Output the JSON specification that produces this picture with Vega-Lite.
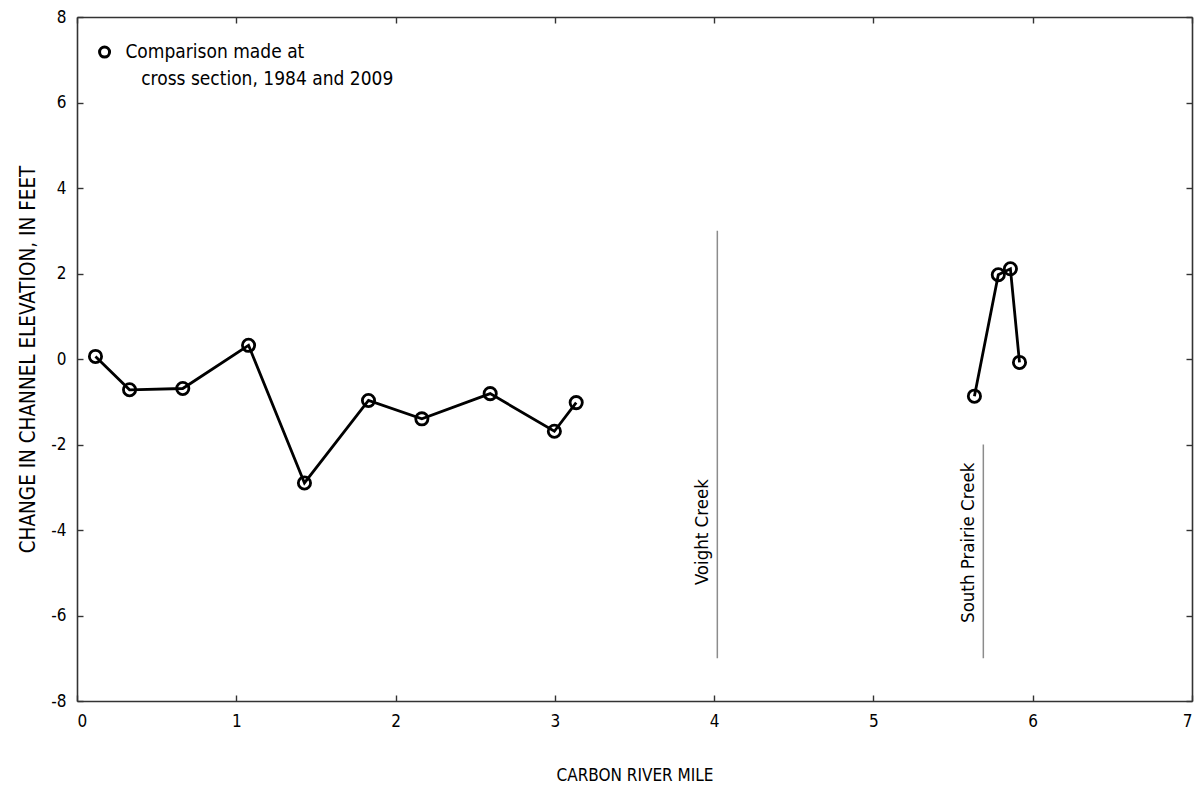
{
  "$schema": "https://vega.github.io/schema/vega-lite/v6.json",
  "width": 1115,
  "height": 684,
  "autosize": {"type": "none"},
  "padding": {"left": 77, "top": 17, "right": 10, "bottom": 85},
  "background": "white",
  "config": {
    "font": "Liberation Sans Narrow, DejaVu Sans Condensed, Roboto, sans-serif",
    "view": {"stroke": null},
    "axis": {
      "grid": false,
      "domainColor": "#333333",
      "domainWidth": 1.6,
      "tickColor": "#333333",
      "tickWidth": 1.4,
      "tickSize": -6,
      "labelFontSize": 17,
      "labelColor": "#000000",
      "labelExpr": "'' + datum.value",
      "titleFontSize": 17,
      "titleFontWeight": "normal",
      "titleColor": "#000000"
    }
  },
  "datasets": {
    "sections": [
      {"reach": "lower", "mile": 0.116, "change": 0.06},
      {"reach": "lower", "mile": 0.33, "change": -0.72},
      {"reach": "lower", "mile": 0.664, "change": -0.69},
      {"reach": "lower", "mile": 1.077, "change": 0.32},
      {"reach": "lower", "mile": 1.428, "change": -2.9},
      {"reach": "lower", "mile": 1.83, "change": -0.97},
      {"reach": "lower", "mile": 2.165, "change": -1.4},
      {"reach": "lower", "mile": 2.594, "change": -0.81},
      {"reach": "lower", "mile": 2.997, "change": -1.69},
      {"reach": "lower", "mile": 3.134, "change": -1.02},
      {"reach": "upper", "mile": 5.634, "change": -0.87},
      {"reach": "upper", "mile": 5.784, "change": 1.97},
      {"reach": "upper", "mile": 5.86, "change": 2.11},
      {"reach": "upper", "mile": 5.917, "change": -0.08}
    ],
    "creeks": [
      {"creek": "Voight Creek", "mile": 4.02, "top": 3, "bottom": -7, "label_at": -4.05},
      {"creek": "South Prairie Creek", "mile": 5.69, "top": -2, "bottom": -7, "label_at": -4.3}
    ],
    "key": [
      {"line1": "Comparison made at", "line2": "cross section, 1984 and 2009"}
    ]
  },
  "resolve": {"axis": {"x": "independent", "y": "independent"}},
  "layer": [
    {
      "data": {"name": "creeks"},
      "mark": {"type": "rule", "color": "#8c8c8c", "strokeWidth": 1.5},
      "encoding": {
        "x": {
          "field": "mile", "type": "quantitative",
          "scale": {"domain": [0, 7], "nice": false, "zero": false},
          "axis": {"orient": "top", "labels": false, "title": null, "values": [0, 1, 2, 3, 4, 5, 6, 7]}
        },
        "y": {
          "field": "top", "type": "quantitative",
          "scale": {"domain": [-8, 8], "nice": false, "zero": false},
          "axis": {"orient": "right", "labels": false, "title": null, "values": [-8, -6, -4, -2, 0, 2, 4, 6, 8]}
        },
        "y2": {"field": "bottom"}
      }
    },
    {
      "data": {"name": "creeks"},
      "mark": {"type": "text", "angle": 270, "align": "center", "baseline": "bottom", "dy": -5, "fontSize": 18.5, "color": "#000000"},
      "encoding": {
        "x": {"field": "mile", "type": "quantitative", "axis": null},
        "y": {"field": "label_at", "type": "quantitative", "axis": null},
        "text": {"field": "creek"}
      }
    },
    {
      "data": {"name": "sections"},
      "mark": {"type": "line", "color": "#000000", "strokeWidth": 2.8},
      "encoding": {
        "x": {
          "field": "mile", "type": "quantitative",
          "axis": {"orient": "bottom", "title": "CARBON RIVER MILE", "values": [0, 1, 2, 3, 4, 5, 6, 7], "labelPadding": 18, "titlePadding": 38}
        },
        "y": {
          "field": "change", "type": "quantitative",
          "axis": {"orient": "left", "title": "CHANGE IN CHANNEL ELEVATION, IN FEET", "titleFontSize": 20.5, "values": [-8, -6, -4, -2, 0, 2, 4, 6, 8], "labelPadding": 17, "titlePadding": 12}
        },
        "detail": {"field": "reach"}
      }
    },
    {
      "data": {"name": "sections"},
      "mark": {"type": "point", "shape": "circle", "filled": false, "color": "#000000", "strokeWidth": 2.8, "size": 150, "opacity": 1},
      "encoding": {
        "x": {"field": "mile", "type": "quantitative", "axis": null},
        "y": {"field": "change", "type": "quantitative", "axis": null}
      }
    },
    {
      "data": {"name": "key"},
      "mark": {"type": "point", "shape": "circle", "filled": false, "color": "#000000", "strokeWidth": 3, "size": 100, "opacity": 1},
      "encoding": {
        "x": {"datum": 0.173, "type": "quantitative", "axis": null},
        "y": {"datum": 7.18, "type": "quantitative", "axis": null}
      }
    },
    {
      "data": {"name": "key"},
      "mark": {"type": "text", "align": "left", "baseline": "middle", "fontSize": 19, "color": "#000000"},
      "encoding": {
        "x": {"datum": 0.304, "type": "quantitative", "axis": null},
        "y": {"datum": 7.17, "type": "quantitative", "axis": null},
        "text": {"field": "line1"}
      }
    },
    {
      "data": {"name": "key"},
      "mark": {"type": "text", "align": "left", "baseline": "middle", "fontSize": 19, "color": "#000000"},
      "encoding": {
        "x": {"datum": 0.403, "type": "quantitative", "axis": null},
        "y": {"datum": 6.56, "type": "quantitative", "axis": null},
        "text": {"field": "line2"}
      }
    }
  ]
}
